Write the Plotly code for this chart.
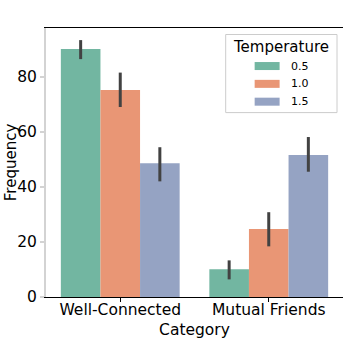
import plotly.graph_objects as go

categories = ['Well-Connected', 'Mutual Friends']
temperatures = ['0.5', '1.0', '1.5']
colors = ['#72b6a1', '#e99675', '#95a3c3']

# mean frequency per temperature, one list per temperature (WC, MF)
freq_05 = [90.1, 10.1]
freq_10 = [75.2, 24.7]
freq_15 = [48.6, 51.6]
# confidence interval bounds
hi_05 = [93.3, 13.3]
hi_10 = [81.5, 30.8]
hi_15 = [54.4, 58.1]
lo_05 = [86.4, 6.4]
lo_10 = [69.0, 18.4]
lo_15 = [42.0, 45.5]

means = [freq_05, freq_10, freq_15]
highs = [hi_05, hi_10, hi_15]
lows = [lo_05, lo_10, lo_15]

FONT = 'DejaVu Sans'
W, H = 344, 340
L, R, T, B = 46, 0.5, 28, 43.3
PW, PH = W - L - R, H - T - B


# window pixels -> paper coords
def px(x):
    return (x - L) / PW


def py(y):
    return (H - B - y) / PH


fig = go.Figure()
for temp, col, m, hi, lo in zip(temperatures, colors, means, highs, lows):
    fig.add_trace(go.Bar(
        x=categories, y=m, name=temp, marker=dict(color=col, line=dict(width=0)),
        error_y=dict(type='data', symmetric=False,
                     array=[h - v for h, v in zip(hi, m)],
                     arrayminus=[v - l for l, v in zip(lo, m)],
                     color='#424242', thickness=3, width=0),
        showlegend=False,
    ))

# legend drawn by hand, matplotlib style
shapes = [dict(type='rect', xref='paper', yref='paper',
               x0=px(226), x1=px(337.5), y0=py(112.5), y1=py(34.5),
               line=dict(color='#cccccc', width=1), fillcolor='rgba(255,255,255,0.8)')]
annotations = [
    dict(text='Temperature', xref='paper', yref='paper', x=px(281), y=py(46.5),
         showarrow=False, font=dict(family=FONT, size=15, color='black'),
         xanchor='center', yanchor='middle'),
    # y axis title
    dict(text='Frequency', xref='paper', yref='paper', x=px(0), y=py(162),
         showarrow=False, textangle=-90, font=dict(family=FONT, size=15, color='black'),
         xanchor='left', yanchor='middle'),
]
for i, (temp, col) in enumerate(zip(temperatures, colors)):
    yc = 66 + i * 17.8
    shapes.append(dict(type='rect', xref='paper', yref='paper',
                       x0=px(255), x1=px(280), y0=py(yc + 4), y1=py(yc - 4),
                       line=dict(width=0), fillcolor=col))
    annotations.append(dict(text=temp, xref='paper', yref='paper', x=px(289), y=py(yc),
                            showarrow=False, font=dict(family=FONT, size=11, color='black'),
                            xanchor='left', yanchor='middle'))

fig.update_layout(
    width=W, height=H,
    margin=dict(l=L, r=R, t=T, b=B, pad=0),
    paper_bgcolor='white', plot_bgcolor='white',
    barmode='group', bargap=0.2, bargroupgap=0,
    font=dict(family=FONT, size=15, color='black'),
    shapes=shapes, annotations=annotations,
)
fig.update_xaxes(
    showline=True, linecolor='black', linewidth=1, mirror=True,
    ticks='outside', ticklen=4, tickcolor='black', tickwidth=1,
    tickfont=dict(size=15.5), showgrid=False, automargin=False,
    ticklabelstandoff=-6,
    title=dict(text='Category', font=dict(size=15.5), standoff=6),
)
fig.update_yaxes(
    range=[0, 97.7], tickvals=[0, 20, 40, 60, 80],
    showline=True, linecolor='#d3d3d3', linewidth=2,
    ticks='outside', ticklen=4, tickcolor='#d3d3d3', tickwidth=2,
    tickfont=dict(size=15.5), showgrid=False, zeroline=False, automargin=False,
)

# drop the default 8px body margin so the figure sits at the window corner
fig.write_html('out.html', config={'displayModeBar': False},
               post_script="document.body.style.margin='0';")
